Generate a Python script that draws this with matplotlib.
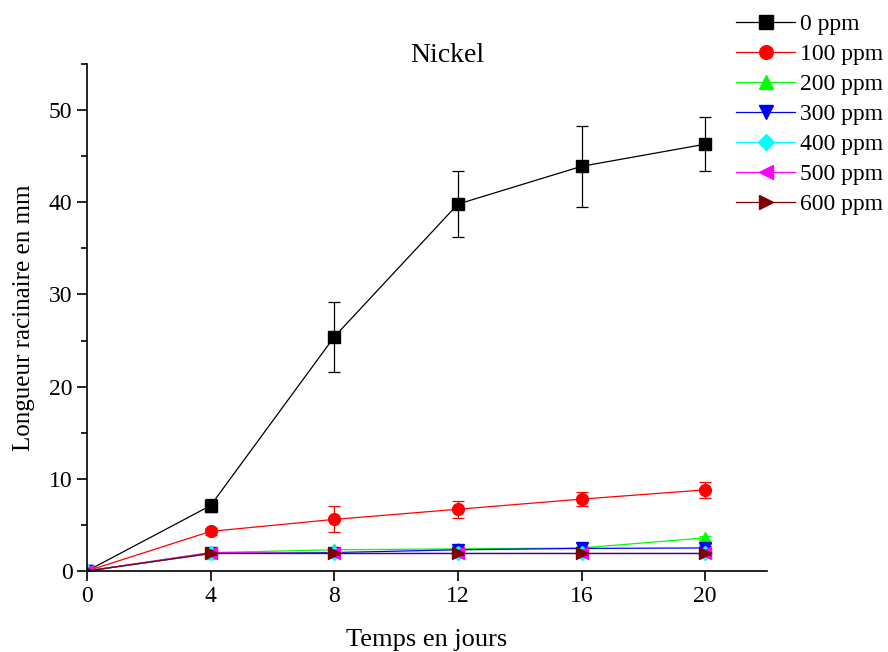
import matplotlib
matplotlib.use("Agg")
import matplotlib.pyplot as plt
from matplotlib.ticker import MultipleLocator

plt.rcParams['font.family'] = ['Liberation Serif', 'DejaVu Serif']

days = [0, 4, 8, 12, 16, 20]
labels = ["0 ppm", "100 ppm", "200 ppm", "300 ppm", "400 ppm", "500 ppm", "600 ppm"]

ppm0 = [0, 7.1, 25.4, 39.8, 43.9, 46.3]
ppm0_err = [0, 0.7, 3.8, 3.6, 4.4, 2.9]
ppm100 = [0, 4.3, 5.6, 6.7, 7.8, 8.8]
ppm100_err = [0, 0.4, 1.4, 0.9, 0.8, 0.9]
ppm200 = [0, 2.0, 2.3, 2.4, 2.5, 3.6]
ppm300 = [0, 1.9, 2.0, 2.3, 2.45, 2.5]
ppm400 = [0, 1.9, 1.9, 1.9, 1.9, 1.9]
ppm500 = [0, 2.0, 1.9, 1.9, 1.9, 1.9]
ppm600 = [0, 1.9, 1.9, 1.9, 1.9, 1.9]
small_err = [0, 0.2, 0.2, 0.2, 0.2, 0.2]

series = [ppm0, ppm100, ppm200, ppm300, ppm400, ppm500, ppm600]
errors = [ppm0_err, ppm100_err, small_err, small_err, small_err, small_err, small_err]
colors = ["black", "red", "#00ff00", "blue", "cyan", "magenta", "#800000"]
markers = ["s", "o", "^", "v", "D", "<", ">"]

fig = plt.figure(figsize=(8.88, 6.52), dpi=100)
ax = fig.add_axes([87 / 888, 1 - 571 / 652, 680 / 888, 507 / 652])

handles = []
for vals, err, c, m, lab in zip(series, errors, colors, markers, labels):
    ms = 7 if m == "D" else 8.5
    ax.errorbar(days, vals, yerr=err, fmt='none', ecolor=c,
                elinewidth=0.9, capsize=4, capthick=0.9)
    line, = ax.plot(days, vals, color=c, marker=m, markersize=ms,
                    linewidth=0.9, label=lab)
    handles.append(line)

ax.set_xlim(0, 22)
ax.set_ylim(0, 55)
ax.xaxis.set_major_locator(MultipleLocator(4))
ax.yaxis.set_major_locator(MultipleLocator(10))
ax.yaxis.set_minor_locator(MultipleLocator(5))
ax.spines['top'].set_visible(False)
ax.spines['right'].set_visible(False)
ax.spines['left'].set_linewidth(1.2)
ax.spines['bottom'].set_linewidth(1.2)
ax.tick_params(axis='both', which='major', direction='out', length=7, width=1.2,
               labelsize=17)
ax.tick_params(axis='y', which='minor', direction='out', length=4, width=1.2)

ax.set_xlabel("Temps en jours", fontsize=19, labelpad=16)
ax.set_ylabel("Longueur racinaire en mm", fontsize=18, labelpad=10)
fig.text(447 / 888, 1 - 55 / 652, "Nickel", fontsize=20, ha="center", va="center")

leg = ax.legend(handles=handles, loc="upper left",
                bbox_to_anchor=(727 / 888, 1 - 4 / 652),
                bbox_transform=fig.transFigure, frameon=False, fontsize=17,
                handlelength=2.5, handletextpad=0.2, labelspacing=0.36,
                borderaxespad=0, markerscale=1.15)

fig.savefig("out.png", dpi=100)
